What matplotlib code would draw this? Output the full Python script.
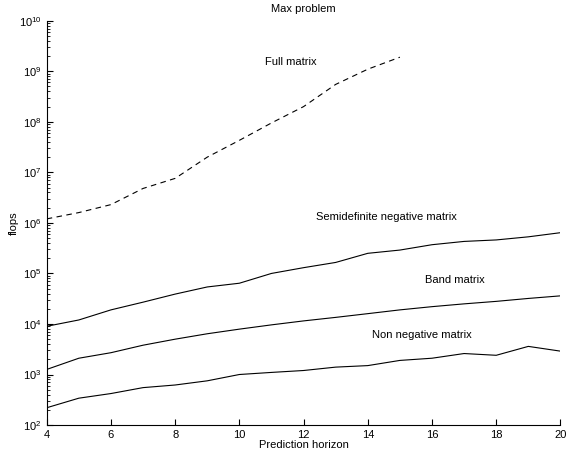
import numpy as np
import matplotlib
matplotlib.use("Agg")
import matplotlib.pyplot as plt
from matplotlib.ticker import LogLocator

plt.rcParams['font.family'] = ['Liberation Sans', 'DejaVu Sans']
plt.rcParams['mathtext.fontset'] = 'custom'
plt.rcParams['mathtext.rm'] = 'Liberation Sans'
plt.rcParams['mathtext.it'] = 'Liberation Sans:italic'
plt.rcParams['mathtext.bf'] = 'Liberation Sans:bold'

# horizon de prediction
horizon = [4, 5, 6, 7, 8, 9, 10, 11, 12, 13, 14, 15, 16, 17, 18, 19, 20]
horizon_full = [4, 5, 6, 7, 8, 9, 10, 11, 12, 13, 14, 15]

full_matrix = [1.2e6, 1.6e6, 2.3e6, 4.8e6, 7.6e6, 2.0e7, 4.3e7, 9.5e7, 2.0e8, 5.5e8, 1.1e9, 1.9e9]
semidef_neg = [9.0e3, 1.2e4, 1.9e4, 2.7e4, 3.9e4, 5.4e4, 6.4e4, 1.0e5, 1.3e5, 1.65e5,
               2.5e5, 2.9e5, 3.7e5, 4.3e5, 4.6e5, 5.3e5, 6.4e5]
band = [1.26e3, 2.1e3, 2.7e3, 3.8e3, 5.0e3, 6.4e3, 7.9e3, 9.6e3, 1.15e4, 1.35e4,
        1.6e4, 1.9e4, 2.2e4, 2.5e4, 2.8e4, 3.2e4, 3.6e4]
non_neg = [2.2e2, 3.4e2, 4.2e2, 5.5e2, 6.2e2, 7.5e2, 1.0e3, 1.1e3, 1.2e3, 1.4e3,
           1.5e3, 1.9e3, 2.1e3, 2.6e3, 2.4e3, 3.6e3, 2.9e3]

fig = plt.figure(figsize=(5.67, 4.61), dpi=100)
ax = fig.add_axes([0.0824, 0.078, 0.906, 0.877])

ax.semilogy(horizon_full, full_matrix, 'k--', lw=0.8, dashes=(5, 4))
ax.semilogy(horizon, semidef_neg, 'k-', lw=0.8)
ax.semilogy(horizon, band, 'k-', lw=0.8)
ax.semilogy(horizon, non_neg, 'k-', lw=0.8)

ax.text(11.6, 10**9.19, "Full matrix", fontsize=8, ha='center', va='center')
ax.text(14.57, 10**6.11, "Semidefinite negative matrix", fontsize=8, ha='center', va='center')
ax.text(16.72, 10**4.87, "Band matrix", fontsize=8, ha='center', va='center')
ax.text(15.7, 10**3.79, "Non negative matrix", fontsize=8, ha='center', va='center')

ax.set_xlim(4, 20)
ax.set_ylim(1e2, 1e10)
ax.set_xticks([4, 6, 8, 10, 12, 14, 16, 18, 20])
ax.yaxis.set_major_locator(LogLocator(base=10, numticks=20))
ax.yaxis.set_minor_locator(LogLocator(base=10, subs=np.arange(2, 10), numticks=20))

ax.spines['top'].set_visible(False)
ax.spines['right'].set_visible(False)
ax.tick_params(direction='in', labelsize=8, length=4, width=0.8)
ax.tick_params(which='minor', direction='in', length=2, width=0.6)
ax.xaxis.set_tick_params(which='minor', bottom=False)

# titre place a la main, au-dessus des axes
ax.text(0.5, 1.029, "Max problem", fontsize=8, ha='center', va='center',
        transform=ax.transAxes)
ax.set_xlabel("Prediction horizon", fontsize=8, labelpad=0)
ax.set_ylabel("flops", fontsize=8, labelpad=0)

fig.savefig("out.png", dpi=100)
